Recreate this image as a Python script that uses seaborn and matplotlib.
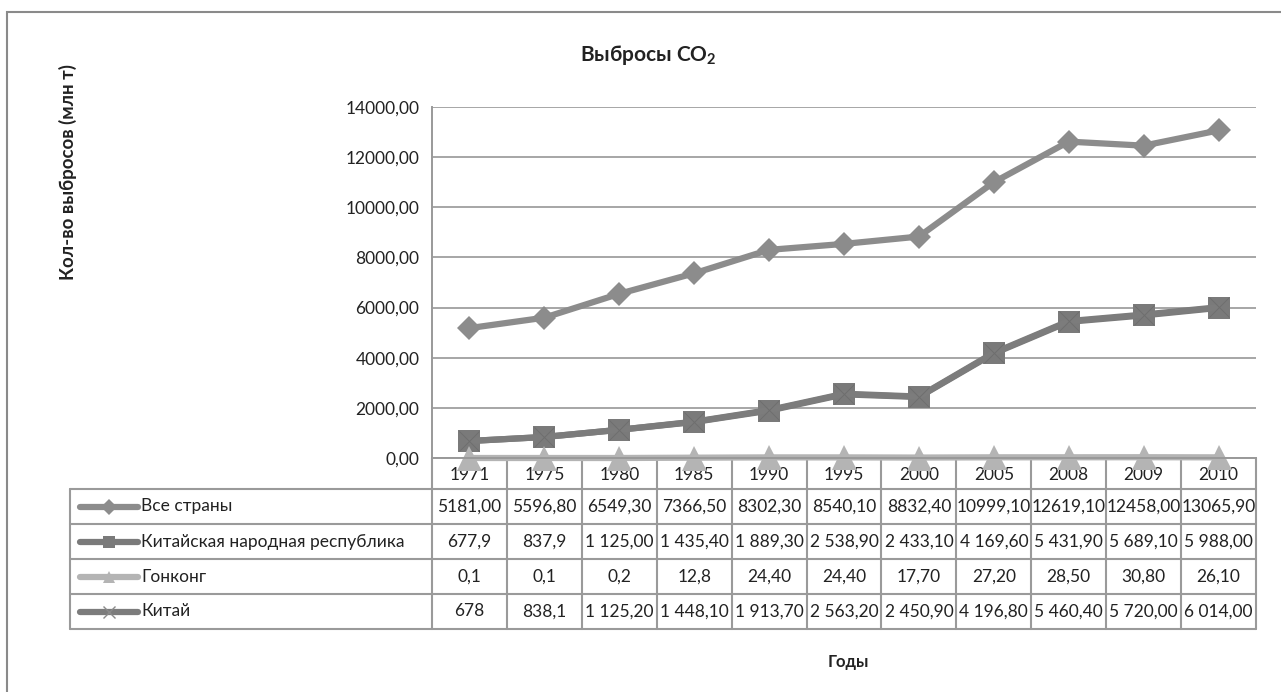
import matplotlib
matplotlib.use("Agg")
import matplotlib.pyplot as plt
import matplotlib.ticker as mticker
from matplotlib.patches import Rectangle
import numpy as np
import seaborn as sns

sns.set_style("white")
plt.rcParams['font.family'] = ['Lato', 'DejaVu Sans']
plt.rcParams['mathtext.fontset'] = 'custom'
plt.rcParams['mathtext.rm'] = 'Lato'
plt.rcParams['mathtext.bf'] = 'Lato:bold'

# Données (texte du tableau tel qu'affiché)
years = ['1971', '1975', '1980', '1985', '1990', '1995', '2000', '2005', '2008', '2009', '2010']
all_countries = ['5181,00', '5596,80', '6549,30', '7366,50', '8302,30', '8540,10',
                 '8832,40', '10999,10', '12619,10', '12458,00', '13065,90']
prc = ['677,9', '837,9', '1 125,00', '1 435,40', '1 889,30', '2 538,90',
       '2 433,10', '4 169,60', '5 431,90', '5 689,10', '5 988,00']
hong_kong = ['0,1', '0,1', '0,2', '12,8', '24,40', '24,40', '17,70', '27,20', '28,50', '30,80', '26,10']
china = ['678', '838,1', '1 125,20', '1 448,10', '1 913,70', '2 563,20',
         '2 450,90', '4 196,80', '5 460,40', '5 720,00', '6 014,00']

series_names = ['Все страны', 'Китайская народная республика', 'Гонконг', 'Китай']
series_text = [all_countries, prc, hong_kong, china]


def to_num(s):
    return float(s.replace(' ', '').replace(',', '.'))


# styles
colors = ['#8c8c8c', '#7a7a7a', '#b4b4b4', '#7c7c7c']
markers = ['D', 's', '^', 'x']
msizes = [12, 16, 18, 14]

W, H = 1281, 692
fig = plt.figure(figsize=(W / 100, H / 100), dpi=100)

# Cadre extérieur
fig.patches.append(Rectangle((7 / W, -0.05), 1.1, 1 - 12 / H + 0.05, transform=fig.transFigure,
                             fill=False, edgecolor='#8a8a8a', lw=1.5))

x0, x1, ytop, ybot = 432, 1256, 107, 458
ax = fig.add_axes([x0 / W, 1 - ybot / H, (x1 - x0) / W, (ybot - ytop) / H])
xpos = np.arange(len(years))

for name, txt, c, m, ms in zip(series_names, series_text, colors, markers, msizes):
    vals = [to_num(s) for s in txt]
    if m == 'x':
        sns.lineplot(x=xpos, y=vals, ax=ax, color=c, linewidth=4.5, marker=m, markersize=ms,
                     markeredgewidth=0.7, markeredgecolor='#6e6e6e', clip_on=False)
    else:
        sns.lineplot(x=xpos, y=vals, ax=ax, color=c, linewidth=4.5, marker=m, markersize=ms,
                     markeredgewidth=0, clip_on=False)

ax.set_xlim(-0.5, len(years) - 0.5)
ax.set_ylim(0, 14000)
ax.set_yticks(np.arange(0, 14001, 2000))
ax.yaxis.set_major_formatter(mticker.FuncFormatter(lambda v, p: f'{v:.2f}'.replace('.', ',')))
ax.set_xticks([])
ax.grid(axis='y', color='#a6a6a6', lw=1.4)
ax.set_axisbelow(True)
for s in ['top', 'right']:
    ax.spines[s].set_visible(False)
for s in ['left', 'bottom']:
    ax.spines[s].set_color('#999999')
    ax.spines[s].set_linewidth(1.4)
ax.tick_params(axis='y', direction='out', length=5, color='#999999', labelsize=12.5, pad=4, labelcolor='#222222')
ax.set_xlabel('')
ax.set_ylabel('')

# Tableau de données
tab = fig.add_axes([0, 0, 1, 1], zorder=-1)
tab.set_xlim(0, W)
tab.set_ylim(H, 0)
tab.axis('off')
colw = (x1 - x0) / len(years)
rows_y = [458, 489, 524, 559, 594, 629]
lc = '#9a9a9a'
for i in range(len(years) + 1):
    tab.plot([x0 + i * colw] * 2, [rows_y[0], rows_y[-1]], color=lc, lw=1.5)
tab.plot([70, 70], [rows_y[1], rows_y[-1]], color=lc, lw=1.5)
for y in rows_y[1:]:
    tab.plot([70, x1], [y, y], color=lc, lw=1.5)

for i, yr in enumerate(years):
    tab.text(x0 + (i + 0.5) * colw, (rows_y[0] + rows_y[1]) / 2 + 1, yr,
             ha='center', va='center', fontsize=12.5, color='#222222')

for r, (name, txt, c, m) in enumerate(zip(series_names, series_text, colors, markers)):
    yc = (rows_y[r + 1] + rows_y[r + 2]) / 2
    tab.plot([80, 138], [yc, yc], color=c, lw=4.5, solid_capstyle='round')
    if m == 'x':
        tab.plot([109], [yc], marker='x', markersize=8, color='#8a8a8a', markeredgewidth=1)
    else:
        tab.plot([109], [yc], marker=m, markersize=8, color=c, markeredgewidth=0)
    tab.text(141, yc, name, ha='left', va='center', fontsize=12.5, color='#222222')
    for i, s in enumerate(txt):
        tab.text(x0 + (i + 0.5) * colw, yc, s, ha='center', va='center', fontsize=12.5, color='#222222')

fig.text(648 / W, 1 - 55 / H, r'Выбросы CO$_\mathbf{2}$', ha='center', va='center',
         fontsize=15, fontweight='bold', color='#222222')
fig.text(68 / W, 1 - 172 / H, 'Кол-во выбросов (млн т)', rotation=90, ha='center', va='center',
         fontsize=13.5, fontweight='bold', color='#222222')
fig.text(848 / W, 1 - 662 / H, 'Годы', ha='center', va='center',
         fontsize=12, fontweight='bold', color='#222222')

fig.savefig('out.png', dpi=100)
